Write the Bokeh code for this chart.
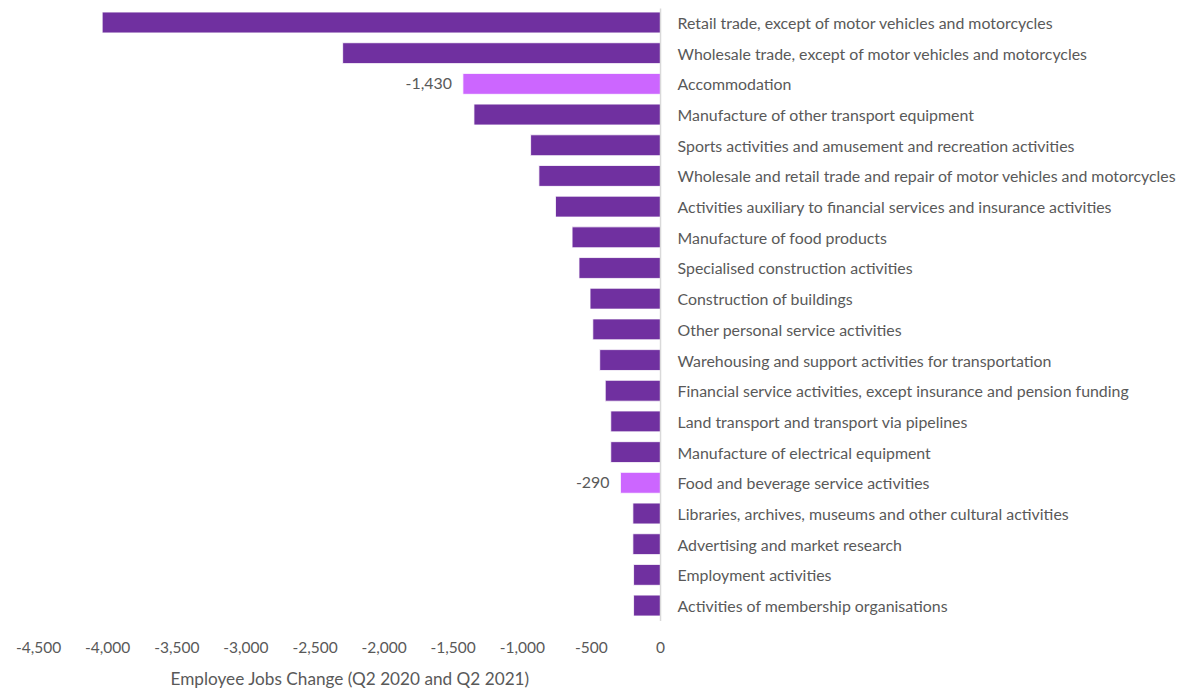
from bokeh.plotting import figure
from bokeh.models import Range1d, FixedTicker, NumeralTickFormatter, ColumnDataSource, Title
from bokeh.core.properties import value
from bokeh.embed import file_html
from bokeh.resources import INLINE

categories = [
    "Retail trade, except of motor vehicles and motorcycles",
    "Wholesale trade, except of motor vehicles and motorcycles",
    "Accommodation",
    "Manufacture of other transport equipment",
    "Sports activities and amusement and recreation activities",
    "Wholesale and retail trade and repair of motor vehicles and motorcycles",
    "Activities auxiliary to financial services and insurance activities",
    "Manufacture of food products",
    "Specialised construction activities",
    "Construction of buildings",
    "Other personal service activities",
    "Warehousing and support activities for transportation",
    "Financial service activities, except insurance and pension funding",
    "Land transport and transport via pipelines",
    "Manufacture of electrical equipment",
    "Food and beverage service activities",
    "Libraries, archives, museums and other cultural activities",
    "Advertising and market research",
    "Employment activities",
    "Activities of membership organisations",
]
values = [-4040, -2300, -1430, -1350, -940, -880, -760, -640, -590, -510,
          -490, -440, -400, -360, -360, -290, -200, -200, -195, -195]
highlight = [False, False, True, False, False, False, False, False, False, False,
             False, False, False, False, False, True, False, False, False, False]
x_ticks = [-4500, -4000, -3500, -3000, -2500, -2000, -1500, -1000, -500, 0]
x_title = "Employee Jobs Change (Q2 2020 and Q2 2021)"

DARK = "#7030A0"
LIGHT = "#CC66FF"
FONT = "Lato"
GREY = "#595959"

n = len(categories)
ys = [n - 1 - i for i in range(n)]
colors = [LIGHT if h else DARK for h in highlight]

src = ColumnDataSource(dict(cat=categories, val=values, y=ys, color=colors, zero=[0] * n))
lab = ColumnDataSource(dict(
    x=[v for v, h in zip(values, highlight) if h],
    y=[y for y, h in zip(ys, highlight) if h],
    t=["{:,}".format(v) for v, h in zip(values, highlight) if h],
))

p = figure(frame_width=1167, frame_height=617, output_backend="svg", toolbar_location=None,
           x_range=Range1d(-4631, 3813), y_range=Range1d(-0.65, n - 1 + 0.456),
           min_border_left=20, min_border_right=0, min_border_top=8, min_border_bottom=60)
p.outline_line_color = None
p.grid.visible = False
p.yaxis.visible = False

p.hbar(y="y", left="val", right="zero", height=0.68, fill_color="color",
       line_color="white", line_width=0.8, source=src)
p.segment(x0=[0], x1=[0], y0=[-0.5], y1=[n - 0.5], line_color="#D9D9D9", line_width=1.5)

p.text(x=0, y="y", text="cat", source=src, x_offset=17, text_align="left",
       text_baseline="middle", text_font=value(FONT), text_font_size="15.9px",
       text_color=GREY)
p.text(x="x", y="y", text="t", source=lab, x_offset=-11, text_align="right",
       text_baseline="middle", text_font=value(FONT), text_font_size="15.9px",
       text_color=GREY)

ax = p.xaxis[0]
ax.ticker = FixedTicker(ticks=x_ticks)
ax.formatter = NumeralTickFormatter(format="0,0")
ax.axis_line_color = None
ax.major_tick_line_color = None
ax.minor_tick_line_color = None
ax.major_label_text_font = FONT
ax.major_label_text_font_size = "15.5px"
ax.major_label_text_color = GREY
ax.major_label_standoff = 10

t = Title(text=x_title, align="left", offset=150, text_font=FONT,
          text_font_size="17.2px", text_font_style="normal", text_color=GREY, standoff=20)
p.add_layout(t, "below")

open("out.html", "w").write(file_html(p, INLINE))
